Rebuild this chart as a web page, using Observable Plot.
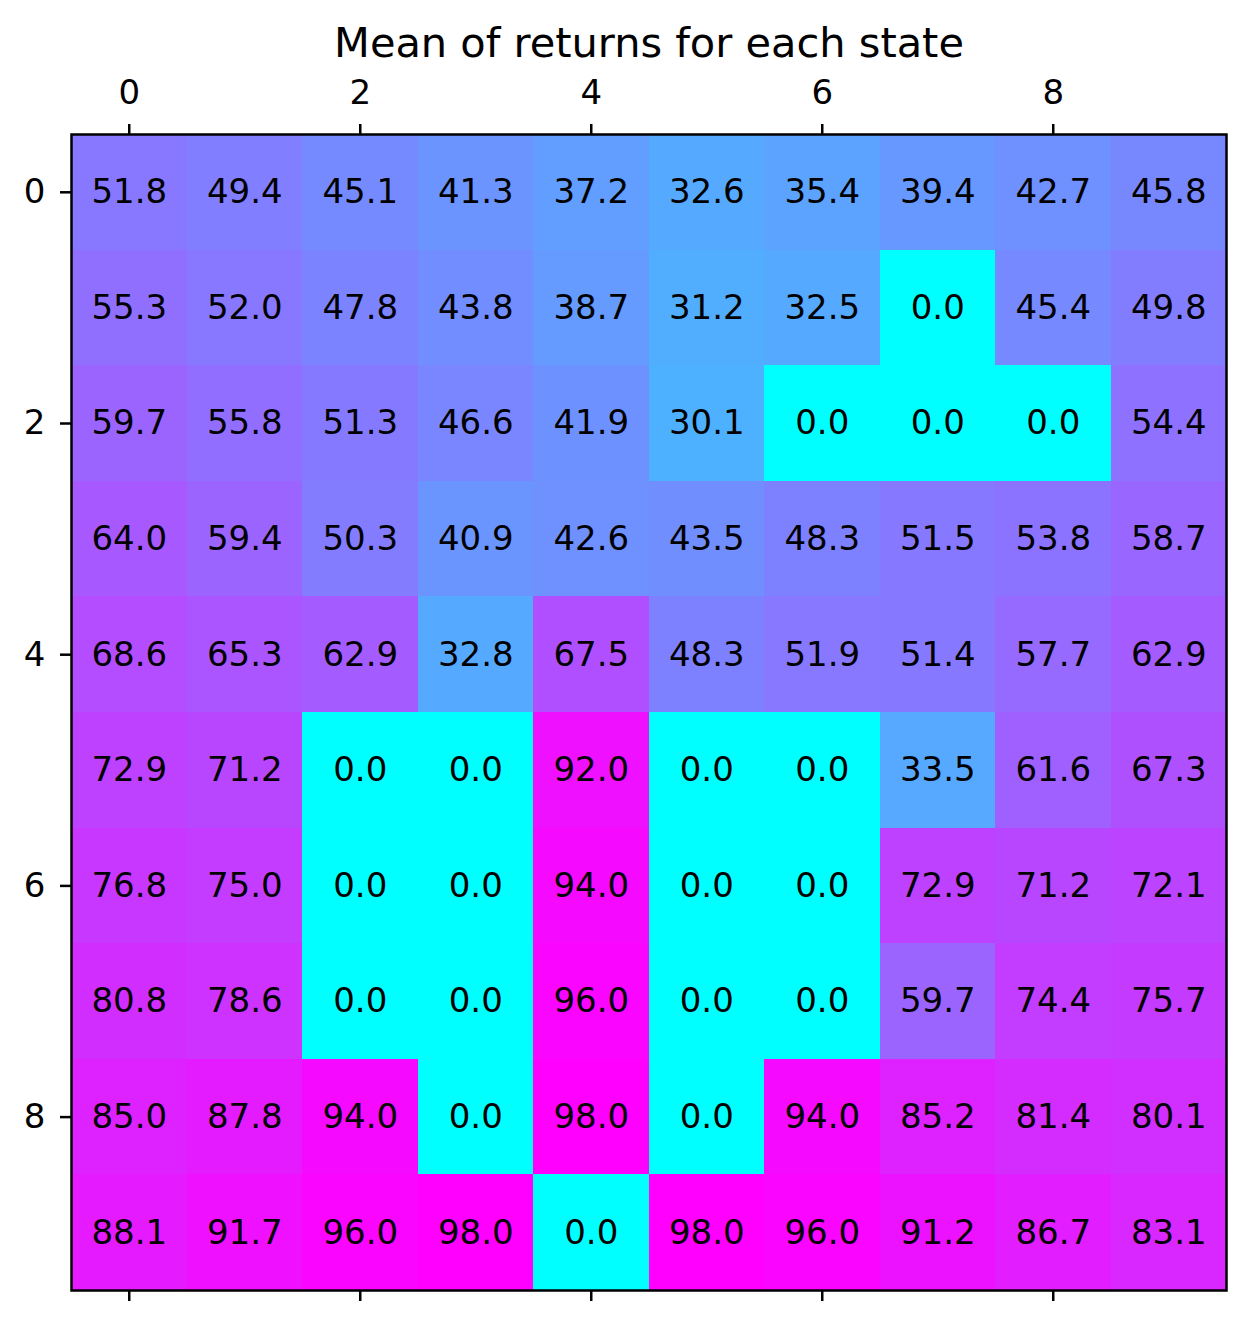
<!DOCTYPE html>
<html>
<head>
<meta charset="utf-8">
<script src="https://cdn.jsdelivr.net/npm/d3@7"></script>
<script src="https://cdn.jsdelivr.net/npm/@observablehq/plot@0.6"></script>
<style>
  html, body { margin: 0; padding: 0; background: #fff; }
  body { width: 1251px; height: 1327px; font-family: "DejaVu Sans", sans-serif; }
</style>
</head>
<body>
<div id="chart"></div>
<script>
const titleText = "Mean of returns for each state";
const rowIndex = [0, 1, 2, 3, 4, 5, 6, 7, 8, 9];
const colIndex = [0, 1, 2, 3, 4, 5, 6, 7, 8, 9];
const tickValues = [0, 2, 4, 6, 8];

const row0 = [51.8, 49.4, 45.1, 41.3, 37.2, 32.6, 35.4, 39.4, 42.7, 45.8];
const row1 = [55.3, 52.0, 47.8, 43.8, 38.7, 31.2, 32.5, 0.0, 45.4, 49.8];
const row2 = [59.7, 55.8, 51.3, 46.6, 41.9, 30.1, 0.0, 0.0, 0.0, 54.4];
const row3 = [64.0, 59.4, 50.3, 40.9, 42.6, 43.5, 48.3, 51.5, 53.8, 58.7];
const row4 = [68.6, 65.3, 62.9, 32.8, 67.5, 48.3, 51.9, 51.4, 57.7, 62.9];
const row5 = [72.9, 71.2, 0.0, 0.0, 92.0, 0.0, 0.0, 33.5, 61.6, 67.3];
const row6 = [76.8, 75.0, 0.0, 0.0, 94.0, 0.0, 0.0, 72.9, 71.2, 72.1];
const row7 = [80.8, 78.6, 0.0, 0.0, 96.0, 0.0, 0.0, 59.7, 74.4, 75.7];
const row8 = [85.0, 87.8, 94.0, 0.0, 98.0, 0.0, 94.0, 85.2, 81.4, 80.1];
const row9 = [88.1, 91.7, 96.0, 98.0, 0.0, 98.0, 96.0, 91.2, 86.7, 83.1];

const rows = [row0, row1, row2, row3, row4, row5, row6, row7, row8, row9];
const data = [];
rows.forEach((r, i) => r.forEach((v, j) => data.push({row: rowIndex[i], col: colIndex[j], value: v})));
const vmax = d3.max(data, d => d.value);
const vmin = d3.min(data, d => d.value);

const chart = Plot.plot({
  width: 1251,
  height: 1327,
  marginTop: 134,
  marginBottom: 37,
  marginLeft: 71,
  marginRight: 25,
  style: { fontFamily: "DejaVu Sans, sans-serif", fontSize: "34px", background: "#fff", color: "#000", overflow: "visible" },
  x: { type: "band", domain: colIndex, padding: 0, round: false, label: null },
  y: { type: "band", domain: rowIndex, padding: 0, round: false, label: null },
  color: { type: "linear", domain: [vmin, vmax], range: ["#00ffff", "#ff00ff"], interpolate: "rgb" },
  marks: [
    Plot.cell(data, { x: "col", y: "row", fill: "value", inset: 0, shapeRendering: "crispEdges" }),
    Plot.text(data, { x: "col", y: "row", text: d => d.value.toFixed(1), fill: "#000", fontSize: 34 }),
    Plot.frame({ stroke: "#000", strokeWidth: 2.5 }),
    Plot.axisX({ anchor: "top", ticks: tickValues, tickSize: 11, tickPadding: 20, strokeWidth: 2.5, fontSize: 34, label: null }),
    Plot.axisX({ anchor: "bottom", ticks: tickValues, tickSize: 11, tickFormat: () => "", strokeWidth: 2.5, label: null }),
    Plot.axisY({ anchor: "left", ticks: tickValues, tickSize: 11, tickPadding: 15, strokeWidth: 2.5, fontSize: 34, label: null }),
    Plot.text([titleText], { frameAnchor: "top", dy: -78, lineAnchor: "bottom", fontSize: 41.5, fill: "#000" })
  ]
});
document.getElementById("chart").appendChild(chart);
</script>
</body>
</html>
